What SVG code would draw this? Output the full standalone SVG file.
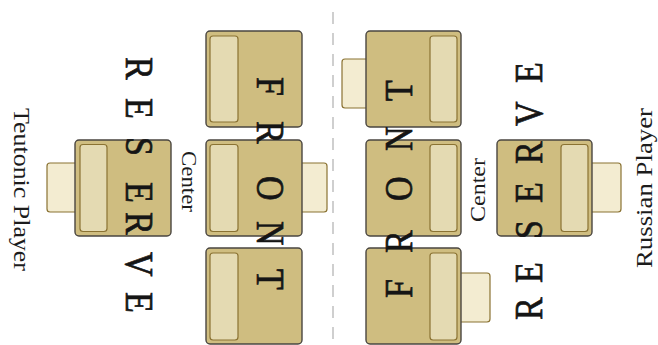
<svg xmlns="http://www.w3.org/2000/svg" width="658" height="345" viewBox="0 0 658 345">
  <style>
    .blk { fill: #cfbd80; stroke: #4a4640; stroke-width: 1.4; }
    .slot { fill: #e4dab2; stroke: #8a7232; stroke-width: 1.2; }
    .tab { fill: #f3ecd1; stroke: #8a7232; stroke-width: 1.2; }
    .big { font-family: "Liberation Serif", "Times New Roman", serif; font-size: 34px; fill: #151515; stroke: #151515; stroke-width: 0.6; }
    .lbl { font-family: "Liberation Serif", "Times New Roman", serif; fill: #1c1c1c; }
    .divider { stroke: #c4c4c4; stroke-width: 1.6; stroke-dasharray: 12 9; fill: none; }
  </style>

  <!-- centre line between the two armies -->
  <g id="connectors">
    <line class="divider" x1="333" y1="12" x2="333" y2="345"/>
  </g>

  <!-- Teutonic side -->
  <g id="teutonic-front-1">
    <rect class="blk" x="206" y="31" width="96" height="96" rx="4"/>
    <rect class="slot" x="210" y="36" width="28" height="86" rx="3"/>
  </g>
  <g id="teutonic-front-2">
    <rect class="tab" x="296" y="163" width="31" height="49" rx="3"/>
    <rect class="blk" x="206" y="140" width="96" height="96" rx="4"/>
    <rect class="slot" x="210" y="144.5" width="28" height="87" rx="3"/>
  </g>
  <g id="teutonic-front-3">
    <rect class="blk" x="206" y="248" width="96" height="96" rx="4"/>
    <rect class="slot" x="210" y="253" width="28" height="87" rx="3"/>
  </g>
  <g id="teutonic-reserve">
    <rect class="tab" x="47" y="163" width="34" height="49" rx="3"/>
    <rect class="blk" x="75" y="140" width="96" height="96" rx="4"/>
    <rect class="slot" x="80" y="144.5" width="27" height="87" rx="3"/>
  </g>

  <!-- Russian side -->
  <g id="russian-front-1">
    <rect class="tab" x="342" y="59" width="30" height="49" rx="3"/>
    <rect class="blk" x="366" y="31" width="95" height="96" rx="4"/>
    <rect class="slot" x="430" y="36" width="27" height="86" rx="3"/>
  </g>
  <g id="russian-front-2">
    <rect class="blk" x="366" y="140" width="95" height="96" rx="4"/>
    <rect class="slot" x="430" y="144.5" width="27" height="87" rx="3"/>
  </g>
  <g id="russian-front-3">
    <rect class="tab" x="455" y="273" width="35" height="49" rx="3"/>
    <rect class="blk" x="366" y="248" width="95" height="96" rx="4"/>
    <rect class="slot" x="430" y="253" width="27" height="87" rx="3"/>
  </g>
  <g id="russian-reserve">
    <rect class="tab" x="586" y="163" width="35" height="49" rx="3"/>
    <rect class="blk" x="497" y="140" width="95" height="96" rx="4"/>
    <rect class="slot" x="561" y="144.5" width="27" height="87" rx="3"/>
  </g>

  <!-- Teutonic labels (read top to bottom) -->
  <g id="teutonic-labels">
    <text class="big" transform="rotate(90) scale(1,1.15)" x="57 98 137 182 212 252 292" y="-109.6">RESERVE</text>
    <text class="big" transform="rotate(90) scale(1,1.15)" x="77 121 176 221 269" y="-223.5">FRONT</text>
    <text class="lbl" font-size="20.5" transform="rotate(90)" x="151" y="-181.5" textLength="61" lengthAdjust="spacingAndGlyphs">Center</text>
    <text class="lbl" font-size="22.5" transform="rotate(90)" x="108" y="-13.5" textLength="163" lengthAdjust="spacingAndGlyphs">Teutonic Player</text>
  </g>

  <!-- Russian labels (read bottom to top) -->
  <g id="russian-labels">
    <text class="big" transform="rotate(-90) scale(1,1.15)" x="-320 -283 -239 -203 -164 -126 -83" y="471.3">RESERVE</text>
    <text class="big" transform="rotate(-90) scale(1,1.15)" x="-298 -253 -201 -151 -101" y="358.3">FRONT</text>
    <text class="lbl" font-size="20.5" transform="rotate(-90)" x="-222" y="485" textLength="64" lengthAdjust="spacingAndGlyphs">Center</text>
    <text class="lbl" font-size="22.5" transform="rotate(-90)" x="-268" y="651.5" textLength="160" lengthAdjust="spacingAndGlyphs">Russian Player</text>
  </g>
</svg>
